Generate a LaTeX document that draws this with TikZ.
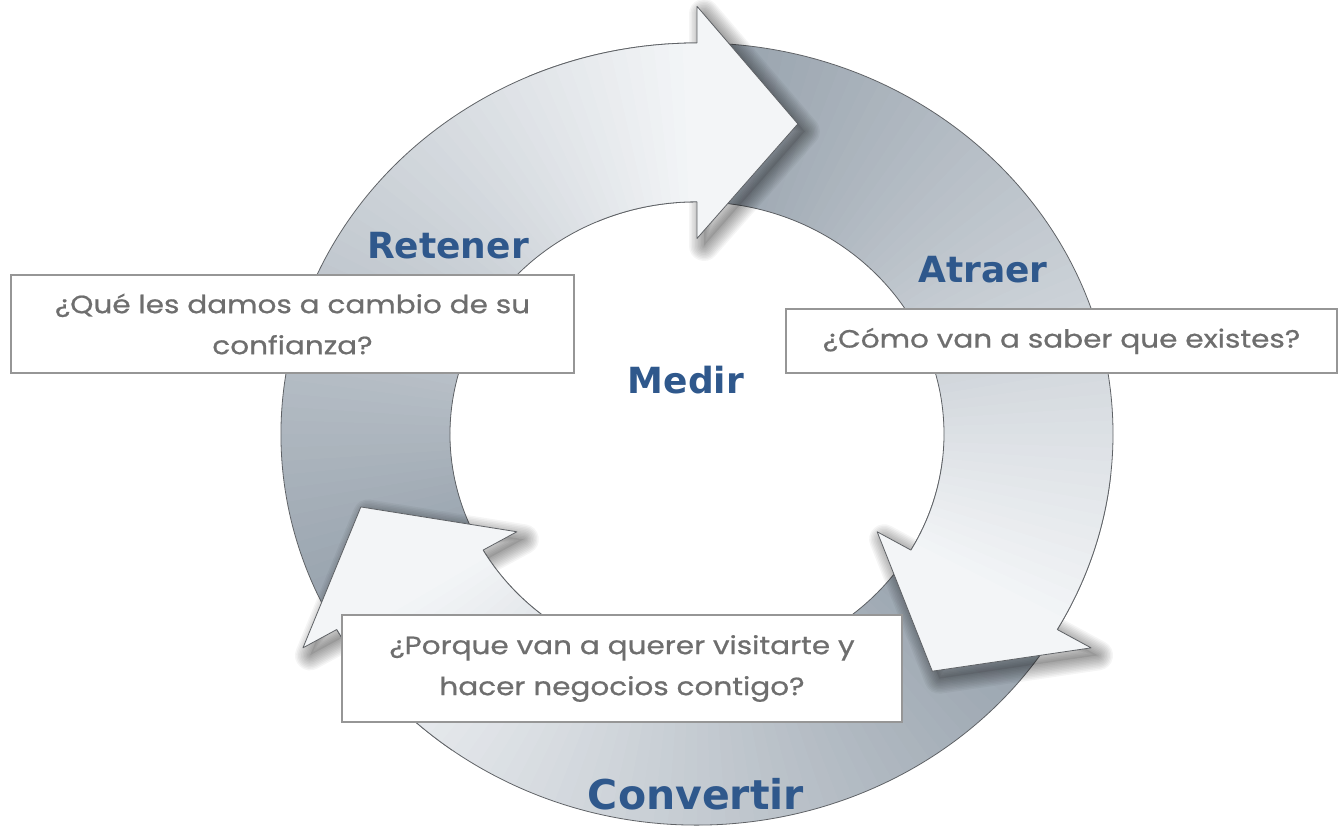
\documentclass[tikz,border=0pt]{standalone}
\usepackage{fontspec}
\setmainfont{Poppins}[FakeStretch=1.18, FakeBold=0.7]
\newfontfamily\headfont{DejaVu Sans}

\definecolor{ringdark}{RGB}{150,161,172}
\definecolor{ringlight}{RGB}{243,245,247}
\definecolor{ringline}{RGB}{95,98,102}
\definecolor{headblue}{RGB}{47,88,140}
\definecolor{asktext}{RGB}{110,110,110}
\definecolor{boxline}{RGB}{150,150,150}

\pgfdeclareradialshading{holeshade}{\pgfpoint{0bp}{0bp}}{color(0bp)=(white); color(35bp)=(white); color(43bp)=(black!12); color(47.5bp)=(black!32); color(50bp)=(black!58)}

\tikzset{
    heading/.style={font=\headfont\bfseries\fontsize{36}{40}\selectfont, text=headblue},
    askbox/.style={draw=boxline, line width=1.6pt, fill=white, align=center, inner sep=0pt,
        font=\fontsize{25}{41}\selectfont, text=asktext},
    edgeline/.style={draw=ringline, line width=0.8pt, line join=round},
    headshape/.style={fill=ringlight},
    softshadow/.style={draw=black, opacity=0.04, line width=#1, line join=round, shift={(7,-8)}}
}

\begin{document}
\begin{tikzpicture}[x=1pt, y=1pt]
    \useasboundingbox (0,0) rectangle (1341,-829);
    \fill[white] (0,0) rectangle (1341,-829);

    % ring of three arrows
    \begin{scope}[shift={(697,-434)}, yscale=0.94]
        \fill[shading=holeshade] (0,0) circle (247);
        \foreach \b in {90,-30,210}
            {
            \foreach \i in {0,...,59}
                {
                \pgfmathsetmacro\a{\b+120-2*\i}
                \pgfmathsetmacro\p{100*\i/59}
                \fill[ringlight!\p!ringdark] (\a:416) arc[start angle=\a, end angle=\a-2.5, radius=416]
                    -- (\a-2.5:247) arc[start angle=\a-2.5, end angle=\a, radius=247] -- cycle;
                }
            \draw[edgeline] (\b+120:416) arc[start angle=\b+120, end angle=\b, radius=416];
            \draw[edgeline] (\b+120:247) arc[start angle=\b+120, end angle=\b, radius=247];
            }
        % shadows of the heads
        \foreach \b in {90,-30,210}
            {
            \fill[black, opacity=0.08, shift={(7,-8)}] (\b:416) -- (\b:455) -- (\b-17:345) -- (\b:208) -- (\b:247) -- cycle;
            \foreach \w in {30,27,...,3}
                \draw[softshadow=\w pt] (\b:416) -- (\b:455) -- (\b-17:345) -- (\b:208) -- (\b:247) -- cycle;
            }
        % clean the band ends again, then the heads
        \foreach \b in {90,-30,210}
            {
            \foreach \i in {48,...,59}
                {
                \pgfmathsetmacro\a{\b+120-2*\i}
                \pgfmathsetmacro\p{100*\i/59}
                \fill[ringlight!\p!ringdark] (\a:416) arc[start angle=\a, end angle=\a-2.5, radius=416]
                    -- (\a-2.5:247) arc[start angle=\a-2.5, end angle=\a, radius=247] -- cycle;
                }
            \fill[headshape] (\b:416) -- (\b:455) -- (\b-17:345) -- (\b:208) -- (\b:247) -- cycle;
            \draw[edgeline] (\b+24:416) arc[start angle=\b+24, end angle=\b, radius=416];
            \draw[edgeline] (\b+24:247) arc[start angle=\b+24, end angle=\b, radius=247];
            \draw[edgeline] (\b:416) -- (\b:455) -- (\b-17:345) -- (\b:208) -- (\b:247);
            }
    \end{scope}

    % questions
    \node[askbox, minimum width=563pt, minimum height=98pt] (askretener) at (292.5,-324)
        {¿Qué les damos a cambio de su\\confianza?};
    \node[askbox, minimum width=551pt, minimum height=64pt] (askatraer) at (1061.5,-341)
        {¿Cómo van a saber que existes?};
    \node[askbox, minimum width=560pt, minimum height=107pt] (askconvertir) at (622,-668.5)
        {¿Porque van a querer visitarte y\\hacer negocios contigo?};

    % stages
    \node[heading] (retener) at (448,-246) {Retener};
    \node[heading] (atraer) at (983,-270) {Atraer};
    \node[heading] (medir) at (686,-380) {Medir};
    \node[heading, font=\headfont\bfseries\fontsize{41}{44}\selectfont] (convertir) at (696,-794) {Convertir};
\end{tikzpicture}
\end{document}
